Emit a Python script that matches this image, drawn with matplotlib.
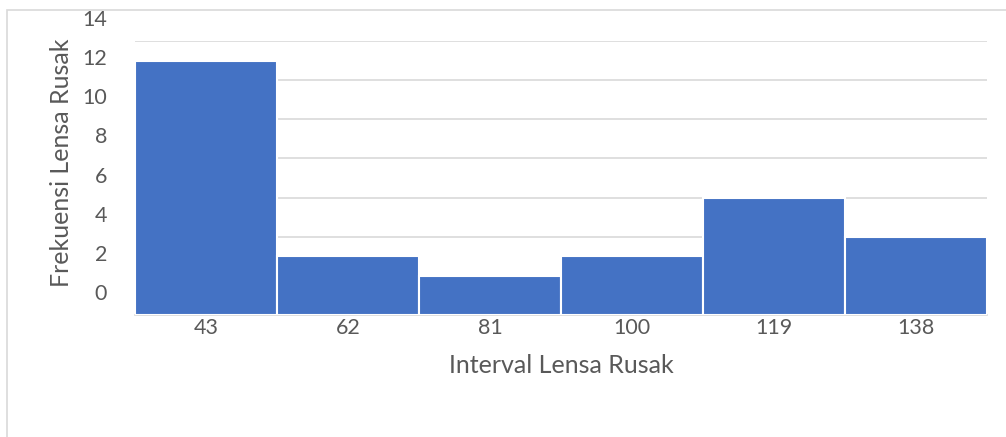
import matplotlib.pyplot as plt
import matplotlib.transforms as mtransforms
from matplotlib.patches import Rectangle

plt.rcParams['font.family'] = ['Lato', 'DejaVu Sans']

# data
intervals = ['43', '62', '81', '100', '119', '138']
freq = [13, 3, 2, 3, 6, 4]
y_ticks = [0, 2, 4, 6, 8, 10, 12, 14]

text_color = '#595959'
bar_color = '#4472C4'
grid_color = '#D9D9D9'

fig = plt.figure(figsize=(10.06, 4.37), dpi=100)
ax = fig.add_axes([135 / 1006, 1 - 315 / 437, 852 / 1006, 274 / 437])

# chart border (top and left edges visible only)
fig.patches.append(Rectangle((7 / 1006, -0.1), 1.2, 1 - 10 / 437 + 0.1,
                             transform=fig.transFigure, fill=False,
                             edgecolor=grid_color, linewidth=1.2))

x = range(len(intervals))
ax.bar(x, freq, width=1.0, color=bar_color, edgecolor='white', linewidth=1.5, zorder=3)

ax.set_xlim(-0.5, len(intervals) - 0.5)
ax.set_ylim(0, 14)
ax.set_yticks(y_ticks)
ax.set_xticks(list(x))
ax.set_xticklabels(intervals)
ax.grid(axis='y', color=grid_color, linewidth=1.2, zorder=0)

for s in ['top', 'right', 'left']:
    ax.spines[s].set_visible(False)
ax.spines['bottom'].set_color(grid_color)
ax.spines['bottom'].set_linewidth(1.2)

ax.tick_params(axis='both', length=0, labelsize=15.5, colors=text_color)
ax.tick_params(axis='y', pad=20)
ax.tick_params(axis='x', pad=2)

# y tick labels sit higher than their gridlines in the original
offset = mtransforms.ScaledTranslation(0, 0.23, fig.dpi_scale_trans)
for lbl in ax.get_yticklabels():
    lbl.set_transform(lbl.get_transform() + offset)

ax.set_xlabel('Interval Lensa Rusak', fontsize=18, color=text_color, labelpad=12)
ax.set_ylabel('Frekuensi Lensa Rusak', fontsize=18, color=text_color)
ax.yaxis.set_label_coords(-62 / 852, 0.555)

fig.savefig('out.png', dpi=100)
